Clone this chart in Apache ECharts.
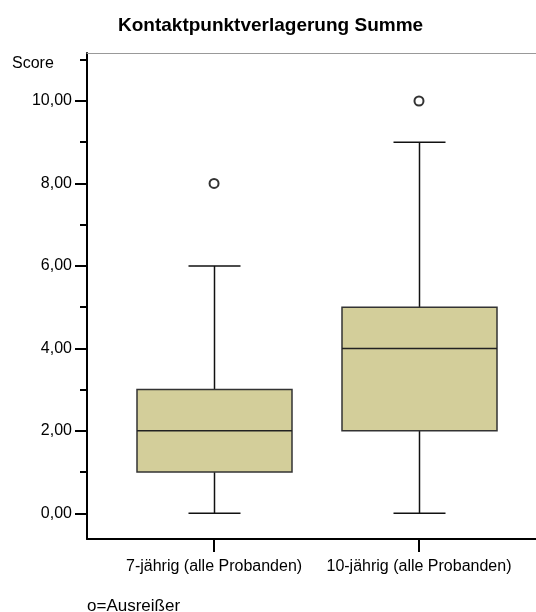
<!DOCTYPE html>
<html>
<head>
<meta charset="utf-8">
<script src="https://cdn.jsdelivr.net/npm/echarts@6/dist/echarts.min.js"></script>
<style>
html,body{margin:0;padding:0;background:#fff;}
#chart{width:536px;height:612px;}
</style>
</head>
<body>
<div id="chart"></div>
<script>
const chartTitle = 'Kontaktpunktverlagerung Summe';
const yAxisName = 'Score';
const footnote = 'o=Ausreißer';
const categories = ['7-jährig (alle Probanden)', '10-jährig (alle Probanden)'];
const whiskerLow = [0, 0];
const q1 = [1, 2];
const median = [2, 4];
const q3 = [3, 5];
const whiskerHigh = [6, 9];
const outliers = [8, 10];
const yTickValues = [0, 2, 4, 6, 8, 10];
const yTickLabels = ['0,00', '2,00', '4,00', '6,00', '8,00', '10,00'];
const yMinorTickValues = [1, 3, 5, 7, 9, 11];

const xPos = categories.map((c, i) => i + 1);
const boxData = categories.map((c, i) => [xPos[i], whiskerLow[i], q1[i], median[i], q3[i], whiskerHigh[i]]);
const outlierData = outliers.map((v, i) => [xPos[i], v]);

const FONT = 'Liberation Sans, Arial, Helvetica, sans-serif';
const X_MIN = 0.38, X_MAX = 2.571;
const Y_MIN = -0.623, Y_MAX = 11.164;

const chart = echarts.init(document.getElementById('chart'), null, {renderer: 'canvas'});
chart.setOption({
  backgroundColor: '#fff',
  animation: false,
  title: [
    {text: chartTitle, left: 118, top: 16, padding: 0,
     textStyle: {fontFamily: FONT, fontSize: 19, fontWeight: 'bold', color: '#000'}},
    {text: yAxisName, left: 12, top: 56, padding: 0,
     textStyle: {fontFamily: FONT, fontSize: 16, fontWeight: 'normal', color: '#000'}},
    {text: footnote, left: 87, top: 598, padding: 0,
     textStyle: {fontFamily: FONT, fontSize: 17, fontWeight: 'normal', color: '#000'}}
  ],
  grid: {left: 87, right: 0, top: 53, bottom: 73, containLabel: false},
  xAxis: [
    {type: 'value', min: X_MIN, max: X_MAX, position: 'bottom',
     axisLine: {show: true, onZero: false, lineStyle: {color: '#000', width: 2}},
     axisTick: {show: true, customValues: xPos, length: 13, lineStyle: {color: '#000', width: 2}},
     axisLabel: {show: true, customValues: xPos, margin: 20,
       formatter: v => categories[Math.round(v) - 1] || '',
       fontFamily: FONT, fontSize: 16, color: '#000'},
     splitLine: {show: false}},
    {type: 'value', min: X_MIN, max: X_MAX, position: 'top',
     axisLine: {show: true, onZero: false, lineStyle: {color: '#999', width: 1}},
     axisTick: {show: false}, axisLabel: {show: false}, splitLine: {show: false}}
  ],
  yAxis: [
    {type: 'value', min: Y_MIN, max: Y_MAX, position: 'left',
     axisLine: {show: true, onZero: false, lineStyle: {color: '#000', width: 2}},
     axisTick: {show: true, customValues: yTickValues, length: 12, lineStyle: {color: '#000', width: 2}},
     axisLabel: {show: true, customValues: yTickValues, margin: 15,
       formatter: v => yTickLabels[yTickValues.indexOf(Math.round(v))] || '',
       fontFamily: FONT, fontSize: 16, color: '#000'},
     splitLine: {show: false}},
    {type: 'value', min: Y_MIN, max: Y_MAX, position: 'left',
     axisLine: {show: false, onZero: false},
     axisTick: {show: true, customValues: yMinorTickValues, length: 7, lineStyle: {color: '#000', width: 2}},
     axisLabel: {show: false}, splitLine: {show: false}}
  ],
  series: [
    {
      type: 'custom',
      xAxisIndex: 0, yAxisIndex: 0,
      data: boxData,
      encode: {x: 0, y: [1, 2, 3, 4, 5]},
      renderItem: function (params, api) {
        const x = api.value(0);
        const pLow = api.coord([x, api.value(1)]);
        const pQ1 = api.coord([x, api.value(2)]);
        const pMed = api.coord([x, api.value(3)]);
        const pQ3 = api.coord([x, api.value(4)]);
        const pHigh = api.coord([x, api.value(5)]);
        const cx = Math.round(pMed[0]) + 0.5;
        const bw = 155, cw = 52;
        const lineStyle = {stroke: '#111', lineWidth: 1.5};
        return {
          type: 'group',
          children: [
            {type: 'line', shape: {x1: cx, y1: pQ3[1], x2: cx, y2: pHigh[1]}, style: lineStyle},
            {type: 'line', shape: {x1: cx, y1: pQ1[1], x2: cx, y2: pLow[1]}, style: lineStyle},
            {type: 'line', shape: {x1: cx - cw / 2, y1: pHigh[1], x2: cx + cw / 2, y2: pHigh[1]}, style: lineStyle},
            {type: 'line', shape: {x1: cx - cw / 2, y1: pLow[1], x2: cx + cw / 2, y2: pLow[1]}, style: lineStyle},
            {type: 'rect', shape: {x: cx - bw / 2, y: pQ3[1], width: bw, height: pQ1[1] - pQ3[1]},
             style: {fill: '#d3ce9a', stroke: '#333', lineWidth: 1.5}},
            {type: 'line', shape: {x1: cx - bw / 2, y1: pMed[1], x2: cx + bw / 2, y2: pMed[1]},
             style: {stroke: '#222', lineWidth: 1.5}}
          ]
        };
      }
    },
    {
      type: 'scatter',
      xAxisIndex: 0, yAxisIndex: 0,
      data: outlierData,
      symbol: 'emptyCircle',
      symbolSize: 9,
      itemStyle: {color: '#000', borderColor: '#000', borderWidth: 2}
    }
  ]
});
</script>
</body>
</html>
